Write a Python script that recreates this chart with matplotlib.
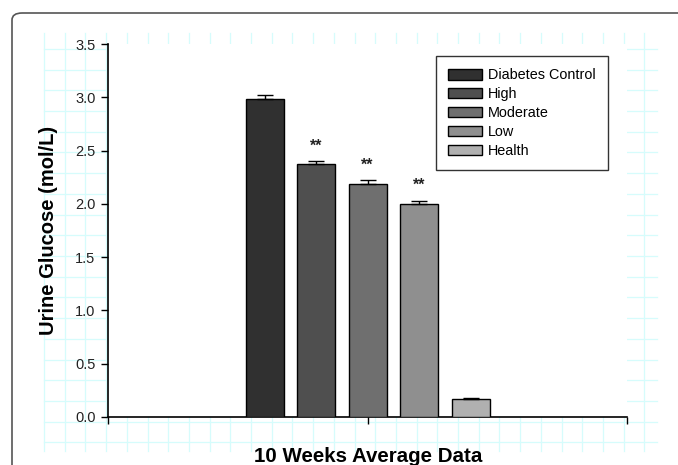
import numpy as np
import matplotlib
matplotlib.use("Agg")
import matplotlib.pyplot as plt
from matplotlib.patches import FancyBboxPatch
from matplotlib.lines import Line2D

plt.rcParams['font.family'] = ['Liberation Sans', 'DejaVu Sans']

# data
groups = ["Diabetes Control", "High", "Moderate", "Low", "Health"]
means = [2.98, 2.37, 2.19, 2.00, 0.17]
errors = [0.04, 0.03, 0.03, 0.03, 0.01]
marks = ["", "**", "**", "**", ""]
colors = ["#303030", "#4f4f4f", "#6f6f6f", "#8f8f8f", "#b0b0b0"]
yticks = [0.0, 0.5, 1.0, 1.5, 2.0, 2.5, 3.0, 3.5]

W, H = 678, 465
fig = plt.figure(figsize=(W / 100, H / 100), dpi=100)

# faint graph-paper background
grid_col = "#d6fcfc"
for x in np.arange(44, 660, 20.7):
    fig.add_artist(Line2D([x / W, x / W], [1 - 33 / H, 1 - 451 / H], color=grid_col, lw=0.9, zorder=0))
for y in np.arange(49, 452, 20.7):
    fig.add_artist(Line2D([44 / W, 657 / W], [1 - y / H, 1 - y / H], color=grid_col, lw=0.9, zorder=0))

# rounded outer frame
frame = FancyBboxPatch((12 / W, -0.1), 1.2, 1 - 13 / H + 0.1, boxstyle="round,pad=0,rounding_size=0.015",
                       transform=fig.transFigure, fill=False, edgecolor="#555555", lw=1.2, zorder=1)
fig.add_artist(frame)

ax = fig.add_axes([108 / W, 1 - 417 / H, (627 - 108) / W, (417 - 44) / H])
ax.set_facecolor("white")
ax.set_zorder(2)

step = 51.5 / 519
width = 38 / 519
offsets = (np.arange(len(groups)) - 2) * step
for off, m, e, c, g, s in zip(offsets, means, errors, colors, groups, marks):
    ax.bar(off, m, width=width, color=c, edgecolor="black", linewidth=1.0, label=g, zorder=3)
    ax.errorbar(off, m, yerr=[[0], [e]], fmt="none", ecolor="black", elinewidth=1.0, capsize=6, capthick=1.0, zorder=4)
    if s:
        ax.text(off, m + e + 0.07, s, ha="center", va="bottom", fontsize=11.5, fontweight="bold", color="#222222")

ax.set_xlim(-0.5, 0.5)
ax.set_ylim(0, 3.5)
ax.set_yticks(yticks)
ax.set_yticklabels([f"{t:.1f}" for t in yticks])
ax.set_xticks([-0.5, 0, 0.5])
ax.set_xticklabels([])
ax.tick_params(axis="y", direction="out", length=5, width=1, labelsize=10.5, labelcolor="#222222", pad=4)
ax.tick_params(axis="x", direction="out", length=5, width=1)
for sp in ["top", "right"]:
    ax.spines[sp].set_visible(False)
for sp in ["left", "bottom"]:
    ax.spines[sp].set_linewidth(1.2)

ax.set_ylabel("Urine Glucose (mol/L)", fontsize=14.5, fontweight="bold", labelpad=12)
fig.text(368 / W, 1 - 456 / H, "10 Weeks Average Data", ha="center", va="center", fontsize=14.8, fontweight="bold")

leg = ax.legend(loc="upper left", bbox_to_anchor=((436 - 108) / 519, 1 - (56 - 44) / 373),
                fontsize=10.4, frameon=True, fancybox=False, edgecolor="black", handlelength=2.3,
                handleheight=0.75, labelspacing=0.34, borderpad=0.85, handletextpad=0.45, borderaxespad=0)
leg.get_frame().set_linewidth(1.0)

fig.savefig("out.png", dpi=100)
